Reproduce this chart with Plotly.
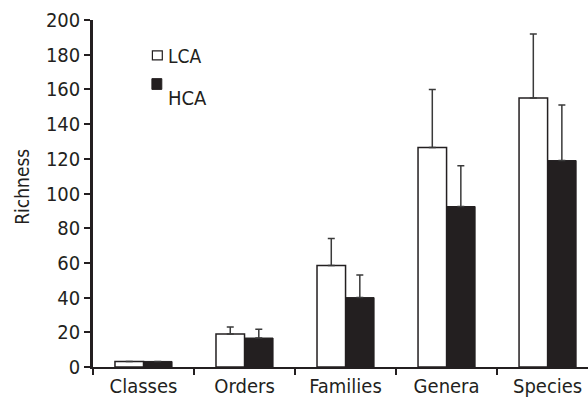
import plotly.graph_objects as go

# Mean richness per taxonomic level with upper standard deviation
categories = ["Classes", "Orders", "Families", "Genera", "Species"]
lca_mean = [3.2, 19, 58.5, 126.5, 155]
lca_sd = [0, 4, 15.5, 33.5, 37]
hca_mean = [3.2, 16.7, 40, 92.5, 119]
hca_sd = [0, 5, 13, 23.5, 32]
y_ticks = [0, 20, 40, 60, 80, 100, 120, 140, 160, 180, 200]

INK = "#231f20"
FONT = "DejaVu Sans Condensed, Liberation Sans Narrow, Liberation Sans, sans-serif"

fig = go.Figure()
fig.add_trace(go.Bar(
    name="LCA", x=categories, y=lca_mean,
    marker=dict(color="white", line=dict(color=INK, width=1.5)),
    error_y=dict(type="data", symmetric=False, array=lca_sd,
                 arrayminus=[0] * len(lca_sd), color="#3a3a3a",
                 thickness=1.5, width=3.5),
))
fig.add_trace(go.Bar(
    name="HCA", x=categories, y=hca_mean,
    marker=dict(color=INK, line=dict(color=INK, width=1)),
    error_y=dict(type="data", symmetric=False, array=hca_sd,
                 arrayminus=[0] * len(hca_sd), color="#3a3a3a",
                 thickness=1.5, width=3.5),
))

# Hand-placed key in the upper left of the plot
fig.add_shape(type="rect", xref="paper", yref="paper",
              x0=0.120, x1=0.140, y0=0.885, y1=0.911,
              line=dict(color=INK, width=1.2), fillcolor="white")
fig.add_shape(type="rect", xref="paper", yref="paper",
              x0=0.119, x1=0.139, y0=0.800, y1=0.831,
              line=dict(color=INK, width=1), fillcolor=INK)
fig.add_annotation(text="LCA", xref="paper", yref="paper", x=0.147, y=0.897,
                   xanchor="left", yanchor="middle", showarrow=False,
                   font=dict(family=FONT, size=19, color=INK))
fig.add_annotation(text="HCA", xref="paper", yref="paper", x=0.147, y=0.775,
                   xanchor="left", yanchor="middle", showarrow=False,
                   font=dict(family=FONT, size=20, color=INK))
fig.add_annotation(text="Richness", xref="paper", yref="paper", x=-0.145, y=0.52,
                   xanchor="center", yanchor="middle", textangle=-90,
                   showarrow=False, font=dict(family=FONT, size=19, color=INK))

fig.update_layout(
    width=588, height=398,
    margin=dict(l=93, r=0, t=19.5, b=25.5),
    paper_bgcolor="white", plot_bgcolor="white",
    barmode="group", bargap=0.435, bargroupgap=0,
    showlegend=False,
    font=dict(family=FONT, size=20, color=INK),
)
fig.update_xaxes(
    type="category", range=[-0.5, 4.4],
    showline=True, linecolor=INK, linewidth=2,
    ticks="outside", tickson="boundaries", ticklen=6, tickwidth=2,
    tickcolor=INK, showgrid=False, zeroline=False,
)
fig.update_yaxes(
    range=[0, 200], tickvals=y_ticks,
    showline=True, linecolor=INK, linewidth=2.5,
    ticks="outside", ticklen=6, tickwidth=2, tickcolor=INK,
    showgrid=False, zeroline=False,
)

fig.write_html("out.html")
